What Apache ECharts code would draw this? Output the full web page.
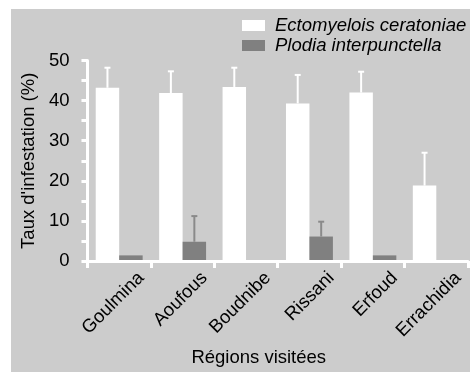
<!DOCTYPE html>
<html>
<head>
<meta charset="utf-8">
<script src="https://cdn.jsdelivr.net/npm/echarts@6/dist/echarts.min.js"></script>
<style>
  html, body { margin: 0; padding: 0; background: #ffffff; }
  #chart { position: absolute; left: 11px; top: 9px; width: 459px; height: 363px; }
</style>
</head>
<body>
<div id="chart"></div>
<script>
// Infestation rate (%) per visited region, mean and standard deviation
const regions = ['Goulmina', 'Aoufous', 'Boudnibe', 'Rissani', 'Erfoud', 'Errachidia'];
const ectomyelois = [43.2, 41.9, 43.4, 39.3, 42.0, 18.8];
const ectomyeloisSd = [5.0, 5.4, 4.8, 7.1, 5.2, 8.2];
const plodia = [1.4, 4.8, 0, 6.1, 1.4, 0];
const plodiaSd = [0, 6.4, 0, 3.7, 0, 0];
const yTicks = [0, 10, 20, 30, 40, 50];

const FONT = "'Liberation Sans', Arial, sans-serif";
const FS = 18.5;
const CAT_GAP = 0.26;

const chart = echarts.init(document.getElementById('chart'));

// Upward error bar with a small cap, placed over the matching bar of the pair
function errorBar(side, color) {
  return function (params, api) {
    const sd = api.value(2);
    if (!sd) return null;
    const i = api.value(0);
    const v = api.value(1);
    const band = api.size([1, 0])[0];
    const barW = band * (1 - CAT_GAP) / 2;
    const base = api.coord([i, v]);
    const top = api.coord([i, v + sd]);
    const x = base[0] + side * barW / 2;
    const style = { stroke: color, lineWidth: 2 };
    return {
      type: 'group',
      children: [
        { type: 'line', shape: { x1: x, y1: base[1], x2: x, y2: top[1] }, style: style },
        { type: 'line', shape: { x1: x - 3, y1: top[1], x2: x + 3, y2: top[1] }, style: style }
      ]
    };
  };
}

chart.setOption({
  backgroundColor: '#cccccc',
  animation: false,
  textStyle: { fontFamily: FONT },
  grid: { left: 75.5, right: 2, top: 51.5, bottom: 108.5, containLabel: false },
  legend: {
    orient: 'vertical',
    left: 226,
    top: 1.5,
    itemWidth: 23,
    itemHeight: 11,
    itemGap: 0,
    icon: 'rect',
    data: ['Ectomyelois ceratoniae', 'Plodia interpunctella'],
    textStyle: {
      fontFamily: FONT, fontSize: FS, fontStyle: 'italic', color: '#000',
      lineHeight: 20, padding: [0, 0, 0, 5]
    }
  },
  xAxis: {
    type: 'category',
    data: regions,
    z: 3,
    name: 'Régions visitées',
    nameLocation: 'middle',
    nameGap: 87,
    nameTextStyle: { fontFamily: FONT, fontSize: FS, color: '#000', padding: [0, 38, 0, 0] },
    axisLine: { lineStyle: { color: '#ffffff', width: 3 } },
    axisTick: { show: true, interval: 0, length: 7, lineStyle: { color: '#ffffff', width: 3 } },
    axisLabel: {
      interval: 0, rotate: 45, margin: 36, color: '#000',
      fontFamily: FONT, fontSize: FS, padding: [0, -31, 0, 0]
    }
  },
  yAxis: {
    type: 'value',
    min: 0,
    max: 50,
    interval: 5,
    z: 3,
    name: "Taux d'infestation (%)",
    nameLocation: 'middle',
    nameGap: 48,
    nameTextStyle: { fontFamily: FONT, fontSize: FS, color: '#000' },
    splitLine: { show: false },
    axisLine: { show: true, lineStyle: { color: '#ffffff', width: 3 } },
    axisTick: { show: true, length: 6, lineStyle: { color: '#ffffff', width: 3 } },
    axisLabel: {
      margin: 18, color: '#000', fontFamily: FONT, fontSize: FS,
      formatter: function (v) { return yTicks.indexOf(v) >= 0 ? String(v) : ''; }
    }
  },
  series: [
    {
      name: 'Ectomyelois ceratoniae',
      type: 'bar',
      data: ectomyelois,
      barGap: '0%',
      barCategoryGap: (CAT_GAP * 100) + '%',
      itemStyle: { color: '#ffffff' }
    },
    {
      name: 'Plodia interpunctella',
      type: 'bar',
      data: plodia,
      itemStyle: { color: '#808080' }
    },
    {
      type: 'custom',
      renderItem: errorBar(-1, '#ffffff'),
      data: ectomyelois.map(function (v, i) { return [i, v, ectomyeloisSd[i]]; }),
      encode: { x: 0, y: 1 },
      z: 4
    },
    {
      type: 'custom',
      renderItem: errorBar(1, '#8a8a8a'),
      data: plodia.map(function (v, i) { return [i, v, plodiaSd[i]]; }),
      encode: { x: 0, y: 1 },
      z: 4
    }
  ]
});
</script>
</body>
</html>
